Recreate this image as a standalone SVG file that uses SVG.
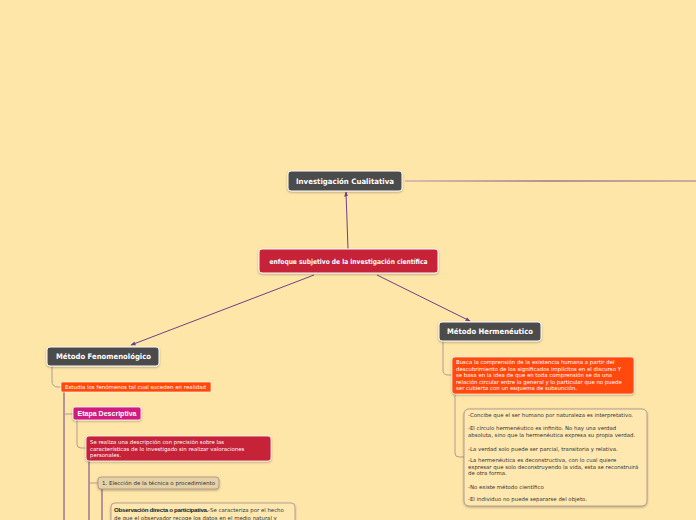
<svg xmlns="http://www.w3.org/2000/svg" width="696" height="520" viewBox="0 0 696 520">
<defs>
<style>
.title{font-family:"DejaVu Sans",Verdana,sans-serif;font-weight:bold;fill:#fff;text-anchor:middle}
.small{font-family:"DejaVu Sans",Verdana,sans-serif;font-size:5.4px}
.w{fill:#fff}
.d{fill:#333}
.dark{fill:#4C4C4C;stroke:#fff;stroke-width:1}
.arrow{stroke:#6B4386;stroke-width:1;fill:none}
.sub{stroke:#B39A95;stroke-width:1;fill:none}
.purple{stroke:#6B4386;stroke-width:1;fill:none}
</style>
<marker id="ah" viewBox="0 0 10 10" refX="9" refY="5" markerWidth="5" markerHeight="5" orient="auto"><path d="M0,1 L10,5 L0,9 z" fill="#6B4386"/></marker>
<filter id="sh" x="-10%" y="-20%" width="120%" height="150%"><feDropShadow dx="0" dy="1" stdDeviation="0.8" flood-color="#000" flood-opacity="0.3"/></filter>
<linearGradient id="lg" gradientUnits="userSpaceOnUse" x1="405" y1="0" x2="696" y2="0"><stop offset="0" stop-color="#B891A8"/><stop offset="0.5" stop-color="#6B3F80"/><stop offset="1" stop-color="#9C7395"/></linearGradient>
</defs>
<rect width="696" height="520" fill="#FEE5A8"/>

<g id="connectors">
<line x1="405" y1="181" x2="696" y2="181" stroke="url(#lg)" stroke-width="1"/>
<line class="arrow" x1="348" y1="249" x2="346" y2="192" marker-end="url(#ah)"/>
<line class="arrow" x1="314" y1="275" x2="131" y2="345" marker-end="url(#ah)"/>
<line class="arrow" x1="377" y1="275" x2="470" y2="321" marker-end="url(#ah)"/>
<path class="sub" d="M52,366 V381 Q52,387 58,387 H61"/>
<path class="purple" d="M64,392 V520"/>
<path class="sub" d="M64,414 H73"/>
<path class="sub" d="M77,420 V444 Q77,448 81,448 H86"/>
<path class="purple" d="M89,461 V520"/>
<path class="sub" d="M89,483 H98"/>
<path class="purple" d="M102,489 V520"/>
<path class="sub" d="M443,341 V370 Q443,375 448,375 H452"/>
<path class="sub" d="M455,394 V453 Q455,457 459,457 H464"/>
</g>

<g id="n-cualitativa">
<rect class="dark" x="288" y="171" width="114" height="20" rx="3" filter="url(#sh)"/>
<text class="title" x="345" y="183.6" font-size="7.5" textLength="98" lengthAdjust="spacingAndGlyphs">Investigación Cualitativa</text>
</g>

<g id="n-root">
<rect x="259" y="249" width="179" height="24" rx="3" fill="#C62038" stroke="#fff" stroke-width="1" filter="url(#sh)"/>
<text class="title" x="348.5" y="263.8" font-size="6.8" textLength="158" lengthAdjust="spacingAndGlyphs">enfoque subjetivo de la investigación científica</text>
</g>

<g id="n-fenomenologico">
<rect class="dark" x="47" y="347" width="112" height="19" rx="3" filter="url(#sh)"/>
<text class="title" x="103.5" y="359" font-size="7.5" textLength="95" lengthAdjust="spacingAndGlyphs">Método Fenomenológico</text>
</g>

<g id="n-hermeneutico">
<rect class="dark" x="439" y="322" width="102" height="19" rx="3" filter="url(#sh)"/>
<text class="title" x="490" y="334" font-size="7.5" textLength="86" lengthAdjust="spacingAndGlyphs">Método Hermenéutico</text>
</g>

<g id="n-estudia">
<rect x="61" y="382" width="150" height="10" rx="1.5" fill="#FF4A0A" stroke="#fff" stroke-width="0.6"/>
<text class="small w" x="65" y="389" textLength="141" lengthAdjust="spacingAndGlyphs">Estudia los fenómenos tal cual suceden en realidad</text>
</g>

<g id="n-etapa">
<rect x="73" y="407" width="68" height="13" rx="2" fill="#CF1F7E" stroke="#fff" stroke-width="0.8" filter="url(#sh)"/>
<text x="107" y="415.8" font-family="Liberation Sans, Arial, sans-serif" font-weight="bold" font-size="6.5" fill="#fff" text-anchor="middle" textLength="59" lengthAdjust="spacingAndGlyphs">Etapa Descriptiva</text>
</g>

<g id="n-descripcion">
<rect x="86" y="436" width="185" height="25" rx="3" fill="#C62038" stroke="#fff" stroke-width="0.8" filter="url(#sh)"/>
<text class="small w" x="90" y="444">Se realiza una descripción con precisión sobre las</text>
<text class="small w" x="90" y="450.5">características de lo investigado sin realizar valoraciones</text>
<text class="small w" x="90" y="457">personales.</text>
</g>

<g id="n-eleccion">
<rect x="98" y="477" width="121" height="12" rx="3" fill="#E6D0A6" stroke="#A2917F" stroke-width="0.8" filter="url(#sh)"/>
<text class="small d" x="102" y="485" textLength="113" lengthAdjust="spacingAndGlyphs">1. Elección de la técnica o procedimiento</text>
</g>

<g id="n-observacion">
<rect x="111" y="503" width="184" height="30" rx="4" fill="#FFE8B0" stroke="#A89090" stroke-width="0.8" filter="url(#sh)"/>
<text class="small d" x="114" y="511.5"><tspan font-family="Liberation Sans, Arial, sans-serif" font-size="6.2" font-weight="bold" fill="#222" letter-spacing="-0.3">Observación directa o participativa.</tspan>-Se caracteriza por el hecho</text>
<text class="small d" x="114" y="519.5">de que el observador recoge los datos en el medio natural y</text>
</g>

<g id="n-busca">
<rect x="452" y="357" width="182" height="37" rx="3" fill="#FF4A0A" stroke="#fff" stroke-width="0.6" filter="url(#sh)"/>
<text class="small w" x="456" y="364">Busca la comprensión de la existencia humana a partir del</text>
<text class="small w" x="456" y="370.5">descubrimiento de los significados implícitos en el discurso Y</text>
<text class="small w" x="456" y="377">se basa en la idea de que en toda comprensión se da una</text>
<text class="small w" x="456" y="383.5">relación circular entre lo general y lo particular que no puede</text>
<text class="small w" x="456" y="390">ser cubierta con un esquema de subsunción.</text>
</g>

<g id="n-caracteristicas">
<rect x="464" y="409" width="183" height="97" rx="5" fill="#FFE8B0" stroke="#A08A8A" stroke-width="0.8" filter="url(#sh)"/>
<text class="small d" x="468" y="417">-Concibe que el ser humano por naturaleza es interpretativo.</text>
<text class="small d" x="468" y="430">-El círculo hermenéutico es infinito. No hay una verdad</text>
<text class="small d" x="468" y="436.5">absoluta, sino que la hermenéutica expresa su propia verdad.</text>
<text class="small d" x="468" y="451">-La verdad solo puede ser parcial, transitoria y relativa.</text>
<text class="small d" x="468" y="462">-La hermenéutica es deconstructiva, con lo cual quiere</text>
<text class="small d" x="468" y="468.5">expresar que solo deconstruyendo la vida, esta se reconstruirá</text>
<text class="small d" x="468" y="475">de otra forma.</text>
<text class="small d" x="468" y="489">-No existe método científico</text>
<text class="small d" x="468" y="501">-El individuo no puede separarse del objeto.</text>
</g>
</svg>
